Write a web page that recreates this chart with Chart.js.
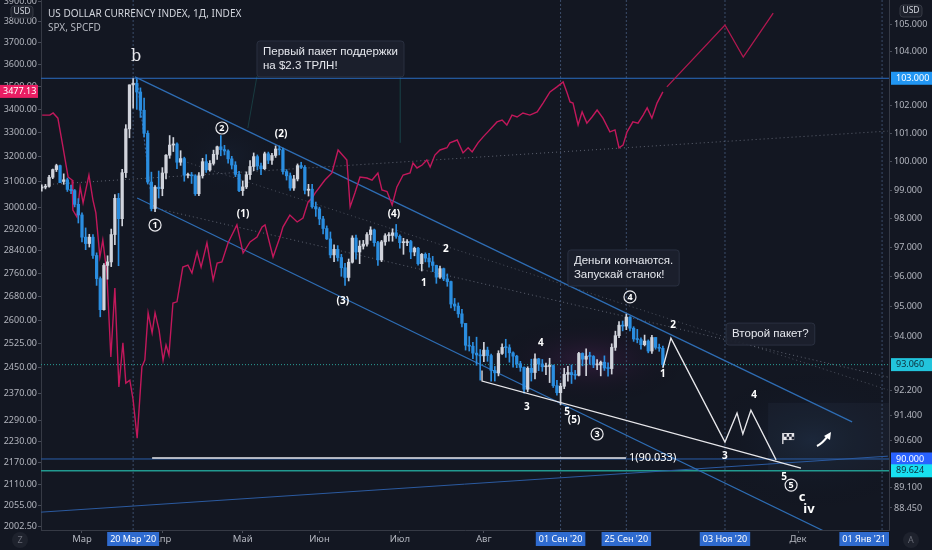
<!DOCTYPE html>
<html><head><meta charset="utf-8">
<script src="https://cdn.jsdelivr.net/npm/chart.js@4.4.0/dist/chart.umd.min.js"></script>
<style>html,body{margin:0;padding:0;background:#131722;overflow:hidden}#wrap{width:932px;height:550px}</style>
</head><body><div id="wrap"><canvas id="c" width="932" height="550"></canvas></div>
<script>
// ---------- DATA ----------
const firstBar = -11; // weekday index of first candle (14 Feb 2020), 0 = 2 Mar 2020
const dxyOpen = [99.07,99.10,99.13,99.45,99.72,99.86,99.30,99.36,99.02,98.98,98.50,
98.13,97.36,97.14,97.36,96.73,95.94,94.89,96.39,96.51,97.45,
98.71,98.00,99.61,101.17,102.76,102.82,102.50,101.84,101.01,99.28,
98.35,99.10,99.05,99.60,100.23,100.59,100.63,99.98,100.11,99.52,
99.52,99.50,98.87,99.50,100.00,99.71,99.94,100.26,100.53,100.43,
100.38,100.10,99.88,99.55,98.98,99.11,99.54,99.83,100.18,99.85,
99.75,100.28,100.05,100.22,100.45,100.42,99.65,99.50,99.07,99.39,
99.86,99.80,98.99,99.03,98.42,98.34,97.99,97.66,97.30,96.75,
96.94,96.66,96.31,95.98,96.50,97.33,96.85,97.05,97.12,97.45,
97.61,97.17,96.58,97.20,97.41,97.42,97.51,97.39,97.17,97.17,
97.21,96.85,96.98,96.45,96.77,96.64,96.51,96.39,95.99,96.28,
95.93,95.84,95.08,95.01,94.75,94.43,93.70,93.67,93.44,93.38,
93.35,93.54,93.36,92.87,92.79,93.43,93.63,93.62,93.45,93.34,
93.09,92.97,92.25,92.94,92.80,93.25,93.08,92.99,93.00,93.03,
92.37,92.14,92.35,92.74,92.80,92.73,92.71,93.43,93.24,93.34,
93.33,93.05,93.05,93.14,92.95,92.93,93.63,94.02,94.37,94.34,
94.64,94.27,93.91,93.89,93.72,93.84,93.51,93.96,93.63,93.60];
const dxyHigh = [99.18,99.20,99.52,99.74,99.91,99.88,99.57,99.42,99.17,99.02,98.70,
98.20,97.68,97.46,97.45,96.82,96.00,96.45,96.72,97.64,98.84,
98.88,99.73,101.32,102.76,102.99,102.98,102.65,102.28,101.10,99.63,
99.16,99.67,99.79,100.25,100.93,100.86,100.67,100.39,100.16,99.60,
99.62,99.54,99.61,100.12,100.25,100.04,100.41,100.55,100.93,100.58,
100.42,100.19,100.00,99.66,99.32,99.64,100.04,100.31,100.24,99.95,
100.34,100.34,100.30,100.56,100.56,100.48,99.72,99.60,99.52,99.92,
99.98,99.86,99.20,99.20,98.58,98.40,98.08,97.75,97.54,97.10,
97.07,96.77,96.46,96.61,97.41,97.43,97.24,97.25,97.52,97.72,
97.64,97.22,97.25,97.48,97.52,97.65,97.80,97.44,97.32,97.28,
97.25,97.02,97.01,96.80,96.82,96.80,96.70,96.40,96.37,96.30,
96.10,95.86,95.27,95.12,94.90,94.43,93.99,93.80,93.97,93.56,
93.80,93.64,93.41,93.00,93.52,93.75,93.90,93.72,93.48,93.37,
93.17,92.99,92.99,93.24,93.42,93.27,93.23,93.11,93.27,93.05,
92.54,92.45,92.94,93.00,93.05,92.87,93.47,93.45,93.58,93.47,
93.36,93.23,93.18,93.35,93.12,93.75,94.17,94.49,94.51,94.74,
94.66,94.32,94.23,93.95,94.04,93.88,94.03,93.96,93.74,93.67];
const dxyLow = [98.96,99.04,99.10,99.40,99.65,99.26,99.20,98.95,98.87,98.41,97.85,
97.20,96.93,97.02,96.63,95.71,94.65,94.87,95.92,96.35,97.10,
96.38,97.75,99.44,100.85,101.91,101.87,101.58,100.88,99.21,98.27,
98.24,98.72,98.80,99.39,100.12,100.36,99.75,99.87,99.31,99.43,
99.23,98.81,98.80,99.42,99.62,99.66,99.88,100.08,100.21,100.24,
99.95,99.74,99.47,98.94,98.81,99.05,99.37,99.68,99.71,99.54,
99.72,99.93,99.90,100.15,100.24,99.56,99.35,98.99,98.99,99.32,
99.76,98.86,98.79,98.37,98.08,97.79,97.47,97.28,96.65,96.52,
96.54,96.02,95.71,95.86,96.47,96.60,96.45,96.95,97.05,97.25,
97.05,96.39,96.52,97.08,97.22,97.22,97.32,96.98,96.77,97.07,
96.62,96.72,96.40,96.20,96.51,96.33,96.18,95.78,95.95,95.87,
95.68,94.95,94.86,94.63,94.31,93.54,93.51,93.26,93.04,92.55,
93.16,93.17,92.52,92.52,92.69,93.40,93.30,93.14,92.98,92.96,
92.84,92.12,92.17,92.52,92.59,92.86,92.84,92.73,92.47,92.31,
92.06,91.75,92.27,92.52,92.44,92.58,92.69,93.02,92.70,93.07,
92.96,92.89,92.69,92.87,92.68,92.75,93.53,93.95,94.18,94.22,
94.18,93.83,93.78,93.57,93.68,93.45,93.43,93.57,93.50,92.99];
const dxyClose = [99.10,99.13,99.45,99.72,99.86,99.26,99.36,99.02,98.98,98.50,98.13,
97.36,97.14,97.36,96.73,95.94,94.89,96.39,96.51,97.45,98.71,
98.00,99.61,101.17,102.76,102.82,102.50,101.84,101.01,99.28,98.35,
99.10,99.05,99.60,100.23,100.59,100.63,99.98,100.11,99.52,99.52,
99.50,98.87,99.50,100.00,99.71,99.94,100.26,100.53,100.43,100.38,
100.10,99.88,99.55,98.98,99.11,99.54,99.83,100.18,99.85,99.75,
100.28,100.05,100.22,100.45,100.42,99.65,99.50,99.07,99.39,99.86,
99.80,98.99,99.03,98.42,98.34,97.99,97.66,97.30,96.75,96.94,
96.66,96.31,95.98,96.50,97.33,96.85,97.05,97.12,97.45,97.61,
97.17,96.58,97.20,97.41,97.42,97.51,97.39,97.17,97.17,97.21,
96.85,96.98,96.45,96.77,96.64,96.51,96.39,95.99,96.28,95.93,
95.84,95.08,95.01,94.75,94.43,93.70,93.67,93.44,93.38,93.35,
93.54,93.36,92.87,92.79,93.43,93.63,93.62,93.45,93.34,93.09,
92.97,92.25,92.94,92.80,93.25,93.08,92.99,93.00,93.03,92.37,
92.14,92.35,92.74,92.80,92.73,92.71,93.43,93.24,93.34,93.33,
93.05,93.05,93.14,92.95,92.93,93.63,94.02,94.37,94.34,94.64,
94.27,93.91,93.89,93.72,93.84,93.51,93.96,93.63,93.60,93.06];

// SPX line (position on the weekday axis, value)
const spxIdx = [-10.9,-8.8,-7.9,-6.6,-5.2,-3.8,-2.7,-2.5,-1.4,-0.5,0.3,1.9,3.0,3.8,4.9,5.7,6.8,7.9,9.0,10.1,
11.2,12.0,13.1,14.0,15.1,16.4,17.2,18.1,19.2,20.0,21.1,22.2,23.0,23.8,24.9,26.0,27.6,29.0,30.1,31.5,
32.6,34.2,35.9,37.0,38.3,40.0,42.4,44.1,46.0,47.9,49.3,50.1,52.3,54.2,55.0,56.9,58.9,60.5,61.9,63.0,
63.8,66.5,68.4,70.1,72.5,73.4,74.7,76.1,78.0,79.4,81.0,82.1,83.5,84.9,86.2,87.9,89.8,90.6,91.7,93.1,
94.4,95.3,96.6,98.0,99.9,100.7,102.7,104.3,105.7,106.8,108.4,109.8,111.1,113.6,115.0,116.3,117.7,119.1,120.7,122.6,
124.6,126.2,128.1,130.0,131.7,132.8,133.6,134.4,135.8,136.9,138.2,139.6,141.0,142.6,144.5,145.9,147.0,148.1,149.2,150.8,
152.2,153.6,154.7,156.0,157.4,159.0];
const spxVal = [3374,3374,3383,3361,3240,3119,3107,2991,2965,3080,3018,3127,3029,2980,2818,2879,2761,2482,2709,2389,
2527,2401,2410,2350,2239,2451,2472,2625,2559,2625,2568,2472,2520,2488,2658,2662,2782,2789,2761,2836,
2782,2869,2737,2796,2800,2869,2935,2832,2872,2890,2927,2935,2818,2890,2927,2972,2946,2961,3022,3037,
3056,3107,3135,3228,3187,3003,3056,3119,3115,3107,3135,3068,3062,3010,3080,3127,3135,3175,3155,3167,
3187,3159,3207,3228,3237,3257,3269,3216,3237,3220,3257,3282,3303,3345,3353,3332,3374,3366,3383,3374,
3388,3426,3475,3497,3519,3470,3431,3426,3332,3388,3340,3366,3396,3361,3303,3311,3237,3248,3303,3345,
3340,3374,3405,3361,3426,3475];
const spxLast = 3477.13;
// SPX forecast path
const spxFcIdx = [160.1,176.0,181.0,189.2];
const spxFcVal = [3497,3783,3632,3841];

// DXY drawings
const resistance103 = 103.0;
const level90 = 90.0;
const level90033 = 90.033;
const level89624 = 89.624;
const lastDxy = 93.06;
const upperChIdx = [14.5,210.8], upperChVal = [103.05,91.19];
const lowerChIdx = [15.1,220.6], lowerChVal = [98.72,86.77];
const risingIdx = [-11.2,220.6], risingVal = [88.32,90.09];
const wedgeIdx = [109.5,109.5,196.8], wedgeVal = [92.87,92.52,89.71];
const waveIdx = [159.0,161.2,176.0,179.3,180.9,183.1,190.0];
const waveVal = [92.95,93.94,90.54,91.48,90.80,91.57,89.97];
const lvl1Idx = [19.2,148.9];
const bToOneIdx = [15.1,19.2], bToOneVal = [102.94,98.48];
const dot0Idx = [-11.2,220.6], dot0Val = [99.18,101.09];
const dot1Idx = [18.6,220.6], dot1Val = [98.41,92.65];
const dot2Idx = [26.8,220.6], dot2Val = [100.06,92.23];
const calloutAIdx = [47.9,45.4], calloutAVal = [103.08,101.20];
const calloutBIdx = [87.1,87.1], calloutBVal = [103.08,100.67];

// axis ticks
const leftTicks = [3900,3800,3700,3600,3500,3400,3300,3200,3100,3000,2920,2840,2760,2680,2600,2525,2450,2370,2290,2230,2170,2110,2055,2002.5];
const rightTicks = [105,104,102,101,100,99,98,97,96,95,94,92.2,91.4,90.6,89.1,88.45];
const monthTicks = [0,22,44,65,87,110,196];
const monthLabels = ['Мар','Апр','Май','Июн','Июл','Авг','Дек'];
const dateMarks = [14,131,149,176,219];
const dateMarkLabels = ["20 Мар '20","01 Сен '20","25 Сен '20","03 Ноя '20","01 Янв '21"];

// wave labels
const waveLabels = [
 {x:14.8,y:103.78,t:'b',k:'serif'},
 {x:20.0,y:97.78,t:'1',k:'circle'},
 {x:38.3,y:101.20,t:'2',k:'circle'},
 {x:44.1,y:98.16,t:'(1)',k:'bold'},
 {x:54.5,y:100.99,t:'(2)',k:'bold'},
 {x:71.4,y:95.18,t:'(3)',k:'bold'},
 {x:85.4,y:98.16,t:'(4)',k:'bold'},
 {x:93.6,y:95.79,t:'1',k:'bold'},
 {x:99.6,y:96.95,t:'2',k:'bold'},
 {x:121.8,y:91.67,t:'3',k:'bold'},
 {x:125.6,y:93.78,t:'4',k:'bold'},
 {x:132.8,y:91.51,t:'5',k:'bold'},
 {x:134.7,y:91.25,t:'(5)',k:'bold'},
 {x:141.0,y:90.80,t:'3',k:'circle'},
 {x:150.0,y:95.32,t:'4',k:'circle'},
 {x:159.0,y:92.75,t:'1',k:'bold'},
 {x:161.8,y:94.38,t:'2',k:'bold'},
 {x:176.0,y:90.09,t:'3',k:'bold'},
 {x:184.0,y:92.06,t:'4',k:'bold'},
 {x:192.2,y:89.43,t:'5',k:'bold'},
 {x:194.1,y:89.17,t:'5',k:'circle'},
 {x:197.1,y:88.79,t:'c',k:'big'},
 {x:199.0,y:88.42,t:'iv',k:'big'}
];
const notes = [
 {x:47.9,y:104.37,lines:['Первый пакет поддержки','на $2.3 ТРЛН!']},
 {x:133.0,y:96.92,lines:['Деньги кончаются.','Запускай станок!']},
 {x:176.3,y:94.44,lines:['Второй пакет?']}
];

// ---------- BUILD ----------
const UP='#d1d4dc', DOWN='#2b8ee0';
const candleX = dxyOpen.map((_,i)=>firstBar+i);
const candleCol = dxyOpen.map((o,i)=> dxyClose[i]>=o ? UP : DOWN);
const pts = (xs,ys)=>xs.map((x,i)=>({x:x,y:ys[i]}));
const X0=-11.22, X1=220.9, YRmin=87.763, YRmax=105.897, YLmin=1992.4, YLmax=3905;
function seg(data,color,opt){return Object.assign({type:'line',yAxisID:'yR',data:data,borderColor:color,borderWidth:1,pointRadius:0,fill:false,tension:0,order:4},opt||{});}

const datasets = [
 {type:'bar',label:'wick',yAxisID:'yR',data:candleX.map((x,i)=>({x:x,y:[dxyLow[i],dxyHigh[i]]})),backgroundColor:candleCol,barThickness:1,grouped:false,order:1},
 {type:'bar',label:'body',yAxisID:'yR',data:candleX.map((x,i)=>({x:x,y:[dxyOpen[i],dxyClose[i]]})),backgroundColor:candleCol,barThickness:2.6,minBarLength:1,grouped:false,order:1},
 seg(pts(spxIdx,spxVal),'#c2185b',{yAxisID:'yL',borderWidth:1.4,order:2}),
 seg(pts(spxFcIdx,spxFcVal),'#b0174f',{yAxisID:'yL',borderWidth:1.3,order:2}),
 seg([{x:X0,y:resistance103},{x:X1,y:resistance103}],'#2a6dc2',{order:3}),
 seg(pts(upperChIdx,upperChVal),'#2e6db4',{borderWidth:1.2,order:3}),
 seg(pts(lowerChIdx,lowerChVal),'#2e6db4',{borderWidth:1.2,order:3}),
 seg(pts(risingIdx,risingVal),'#2b5aa0',{order:3}),
 seg([{x:X0,y:level90},{x:X1,y:level90}],'#2a5ea8',{order:3}),
 seg([{x:X0,y:level89624},{x:X1,y:level89624}],'#229a90',{borderWidth:1.6,order:3}),
 seg([{x:X0,y:lastDxy},{x:X1,y:lastDxy}],'#2a9d95',{borderDash:[1,2],order:4}),
 seg(pts(lvl1Idx,[level90033,level90033]),'#e8e8ec',{borderWidth:1.5,order:0}),
 seg(pts(wedgeIdx,wedgeVal),'#e8e8ec',{borderWidth:1.3,order:0}),
 seg(pts(waveIdx,waveVal),'#e8e8ec',{borderWidth:1.3,order:0}),
 seg(pts(bToOneIdx,bToOneVal),'#3d6aa8',{borderDash:[2,2],order:4}),
 seg(pts(dot0Idx,dot0Val),'#5d6270',{borderDash:[1,3],order:4}),
 seg(pts(dot1Idx,dot1Val),'#5d6270',{borderDash:[1,3],order:4}),
 seg(pts(dot2Idx,dot2Val),'#4a4f5c',{borderDash:[1,3],order:4}),
 seg(pts(calloutAIdx,calloutAVal),'rgba(38,166,154,0.25)',{order:4}),
 seg(pts(calloutBIdx,calloutBVal),'rgba(38,166,154,0.12)',{order:4})
];
dateMarks.forEach(d=>datasets.push(seg([{x:d,y:YRmin},{x:d,y:YRmax}],'#3b4d6b',{borderDash:[2,2],order:4})));

const FONT='"Noto Sans", "Liberation Sans", sans-serif';
const NFONT='"Liberation Sans", Arial, sans-serif';

function roundRect(ctx,x,y,w,h,r){ctx.beginPath();ctx.moveTo(x+r,y);ctx.lineTo(x+w-r,y);ctx.quadraticCurveTo(x+w,y,x+w,y+r);ctx.lineTo(x+w,y+h-r);ctx.quadraticCurveTo(x+w,y+h,x+w-r,y+h);ctx.lineTo(x+r,y+h);ctx.quadraticCurveTo(x,y+h,x,y+h-r);ctx.lineTo(x,y+r);ctx.quadraticCurveTo(x,y,x+r,y);ctx.closePath();}

const overlay = {
 id:'overlay',
 beforeDraw(chart){const c=chart.ctx;c.save();c.fillStyle='#131722';c.fillRect(0,0,chart.width,chart.height);c.restore();},
 beforeDatasetsDraw(chart){
  const c=chart.ctx, xs=chart.scales.x, yr=chart.scales.yR, a=chart.chartArea;
  c.save(); c.beginPath(); c.rect(a.left,a.top,a.right-a.left,a.bottom-a.top); c.clip();
  function glow(ix,v,rx,ry,col){const px=xs.getPixelForValue(ix),py=yr.getPixelForValue(v);c.save();c.translate(px,py);c.scale(1,ry/rx);const g=c.createRadialGradient(0,0,0,0,0,rx);g.addColorStop(0,col);g.addColorStop(1,'rgba(0,0,0,0)');c.fillStyle=g;c.beginPath();c.arc(0,0,rx,0,Math.PI*2);c.fill();c.restore();}
  glow(139,93.2,100,45,'rgba(120,40,120,0.28)');
  glow(200,90.6,120,75,'rgba(45,80,130,0.18)');
  glow(40,100.2,60,45,'rgba(45,80,130,0.10)');
  const rx0=xs.getPixelForValue(187.8), ry0=yr.getPixelForValue(91.81), ry1=yr.getPixelForValue(89.65);
  c.fillStyle='rgba(120,150,200,0.05)'; c.fillRect(rx0,ry0,a.right-rx0,ry1-ry0);
  c.restore();
 },
 afterDatasetsDraw(chart){
  const c=chart.ctx, xs=chart.scales.x, yr=chart.scales.yR;
  c.save(); c.textBaseline='middle'; c.textAlign='center';
  waveLabels.forEach(l=>{
   const px=xs.getPixelForValue(l.x), py=yr.getPixelForValue(l.y);
   if(l.k==='circle'){c.strokeStyle='#e8e8ec';c.lineWidth=1.2;c.beginPath();c.arc(px,py,6,0,Math.PI*2);c.stroke();c.fillStyle='#ffffff';c.font='bold 9px '+FONT;c.fillText(l.t,px,py+0.5);}
   else if(l.k==='serif'){c.fillStyle='#e8e8ec';c.font='16px "DejaVu Serif", "Liberation Serif", serif';c.fillText(l.t,px,py);}
   else if(l.k==='big'){c.fillStyle='#ffffff';c.font='bold 13px '+FONT;c.fillText(l.t,px,py);}
   else {c.fillStyle='#ffffff';c.font='bold 10px '+FONT;c.fillText(l.t,px,py);}
  });
  // level text
  c.textAlign='left'; c.fillStyle='#ffffff'; c.font='11px '+FONT;
  c.fillText('1('+level90033.toFixed(3)+')',xs.getPixelForValue(149.7),yr.getPixelForValue(level90033));
  // notes
  c.font='11.5px '+NFONT;
  notes.forEach(n=>{
   const px=xs.getPixelForValue(n.x), py=yr.getPixelForValue(n.y);
   const w=Math.max(...n.lines.map(s=>c.measureText(s).width))+12, h=n.lines.length*14+8;
   c.fillStyle='rgba(28,33,46,0.92)'; roundRect(c,px,py,w,h,3); c.fill();
   c.strokeStyle='#2a3040'; c.lineWidth=1; c.stroke();
   c.fillStyle='#e6e8ee'; c.textBaseline='top';
   n.lines.forEach((s,i)=>c.fillText(s,px+6,py+5+i*14));
  });
  // flag icon & arrow icon
  const fx=xs.getPixelForValue(193.3), fy=yr.getPixelForValue(90.67);
  c.fillStyle='#e8e8ec'; c.fillRect(fx-6,fy-5,1.3,11);
  c.fillRect(fx-5,fy-5,11,7);
  c.fillStyle='#1b2030'; for(let i=0;i<4;i++){for(let j=0;j<2;j++){if((i+j)%2===0)c.fillRect(fx-4+i*2.5,fy-4+j*2.7,2.5,2.7);}}
  const ax=xs.getPixelForValue(203.1), ay=yr.getPixelForValue(90.61);
  c.strokeStyle='#ffffff'; c.lineWidth=2.2; c.beginPath(); c.moveTo(ax-7,ay+6); c.quadraticCurveTo(ax-2,ay+4,ax+4,ay-4); c.stroke();
  c.fillStyle='#ffffff'; c.beginPath(); c.moveTo(ax+7,ay-8); c.lineTo(ax+6,ay); c.lineTo(ax,ay-4); c.closePath(); c.fill();
  c.restore();
 },
 afterDraw(chart){
  const c=chart.ctx, xs=chart.scales.x, yr=chart.scales.yR, yl=chart.scales.yL, a=chart.chartArea;
  c.save(); c.textBaseline='middle'; c.font='9px '+FONT;
  // right axis highlighted labels
  [{v:resistance103,bg:'#2196f3',fg:'#ffffff'},{v:lastDxy,bg:'#22c4dc',fg:'#0c2d3a'},{v:level90,bg:'#2962ff',fg:'#ffffff'},{v:level89624,bg:'#18e0f0',fg:'#0c2d3a'}].forEach(m=>{
   const py=yr.getPixelForValue(m.v); c.fillStyle=m.bg; c.fillRect(a.right+2,py-6.5,932-a.right-2,13);
   c.fillStyle=m.fg; c.textAlign='left'; c.fillText(m.v.toFixed(3),a.right+7,py);
  });
  // left axis last SPX
  const ly=yl.getPixelForValue(spxLast); c.fillStyle='#e91e63'; c.fillRect(0,ly-6.5,38,13);
  c.fillStyle='#ffffff'; c.textAlign='left'; c.fillText(spxLast.toFixed(2),3,ly);
  // USD boxes
  c.font='8.5px '+FONT; c.textAlign='center';
  [[22,12],[911,11]].forEach(p=>{c.fillStyle='#1e222d';roundRect(c,p[0]-11,p[1]-6,22,12,3);c.fill();c.strokeStyle='#363a45';c.stroke();c.fillStyle='#d1d4dc';c.fillText('USD',p[0],p[1]);});
  // date marks
  c.font='9px '+FONT;
  dateMarks.forEach((d,i)=>{
   const s=dateMarkLabels[i]; const w=c.measureText(s).width+6; let px=xs.getPixelForValue(d)-w/2;
   if(px+w>a.right) px=a.right-w;
   c.fillStyle='#2f6bcf'; c.fillRect(px,a.bottom+2,w,14);
   c.fillStyle='#ffffff'; c.textAlign='left'; c.fillText(s,px+3,a.bottom+9.5);
  });
  // title
  c.textAlign='left'; c.font='10px '+FONT; c.fillStyle='#d1d4dc';
  c.fillText('US DOLLAR CURRENCY INDEX, 1Д, INDEX',48,14);
  c.fillStyle='#b2b5be'; c.fillText('SPX, SPCFD',48,28);
  // corner icons
  c.textAlign='center'; c.font='9px '+FONT;
  [[20,540,'Z'],[911,540,'A']].forEach(p=>{c.fillStyle='#1e222d';c.beginPath();c.arc(p[0],p[1],8,0,Math.PI*2);c.fill();c.fillStyle='#6a6d78';c.fillText(p[2],p[0],p[1]);});
  c.restore();
 }
};

const tickFont={family:'"Noto Sans", "Liberation Sans", sans-serif',size:9};
new Chart(document.getElementById('c'),{
 type:'bar',
 data:{datasets:datasets},
 plugins:[overlay],
 options:{
  responsive:false,animation:false,
  layout:{padding:{left:0,right:0,top:0,bottom:0}},
  plugins:{legend:{display:false},tooltip:{enabled:false}},
  scales:{
   x:{type:'linear',min:X0,max:X1,offset:false,position:'bottom',
      grid:{display:true,drawOnChartArea:false,drawTicks:true,tickLength:3,color:'#4a4e5a',offset:false},
      border:{color:'#363a45'},
      afterBuildTicks:s=>{s.ticks=monthTicks.map(v=>({value:v}));},
      afterFit:s=>{s.height=20;s.paddingLeft=0;s.paddingRight=0;},
      ticks:{autoSkip:false,maxRotation:0,color:'#b2b5be',font:{family:tickFont.family,size:9.5},padding:1,callback:(v,i)=>monthLabels[i]}},
   yL:{type:'logarithmic',position:'left',min:YLmin,max:YLmax,
      grid:{display:true,drawOnChartArea:false,drawTicks:true,tickLength:3,color:'#4a4e5a'},
      border:{color:'#363a45'},
      afterBuildTicks:s=>{s.ticks=leftTicks.map(v=>({value:v}));},
      afterFit:s=>{s.width=41;s.paddingTop=0;s.paddingBottom=0;},
      ticks:{autoSkip:false,color:'#b2b5be',font:tickFont,padding:1,callback:v=>Number(v).toFixed(2)}},
   yR:{type:'logarithmic',position:'right',min:YRmin,max:YRmax,
      grid:{display:true,drawOnChartArea:false,drawTicks:true,tickLength:3,color:'#4a4e5a'},
      border:{color:'#363a45'},
      afterBuildTicks:s=>{s.ticks=rightTicks.map(v=>({value:v}));},
      afterFit:s=>{s.width=43;s.paddingTop=0;s.paddingBottom=0;},
      ticks:{autoSkip:false,color:'#b2b5be',font:tickFont,padding:2,callback:v=>Number(v).toFixed(3)}}
  }
 }
});
</script></body></html>
